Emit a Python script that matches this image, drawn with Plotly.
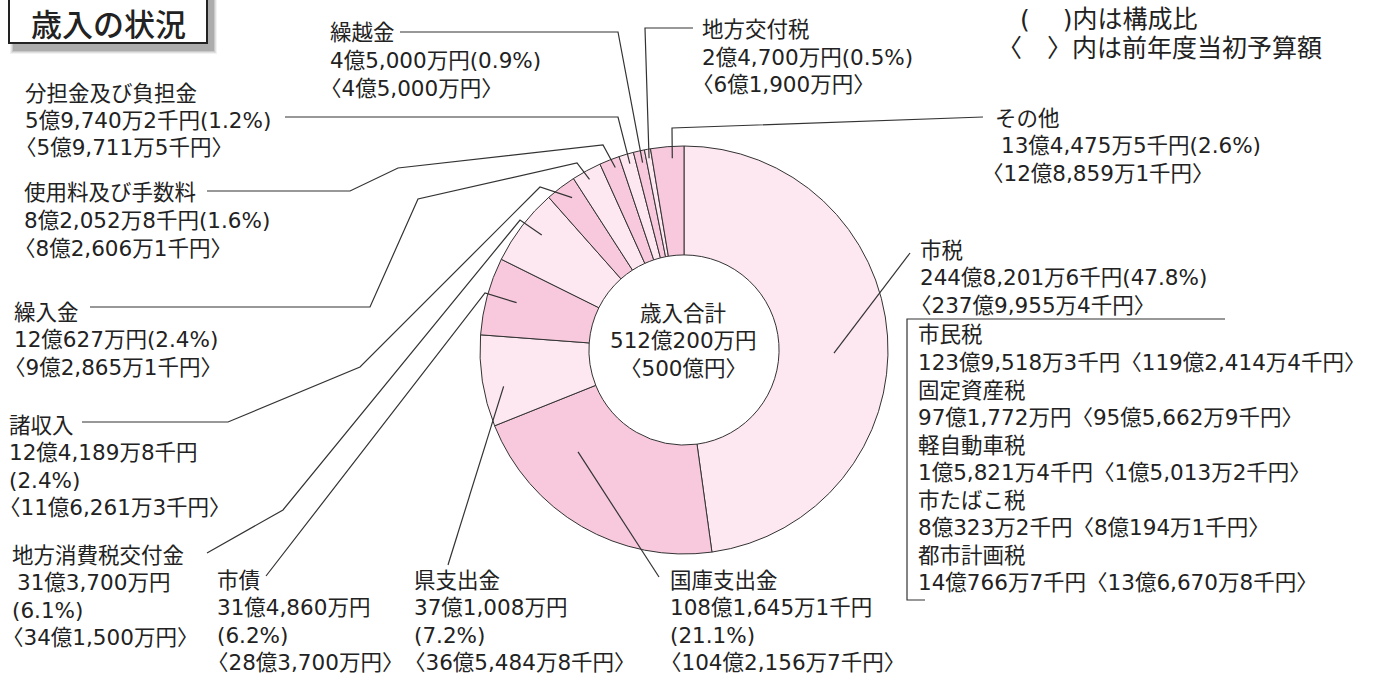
import math
import plotly.graph_objects as go

# ---------------- data ----------------
categories = ["市税", "国庫支出金", "県支出金", "市債", "地方消費税交付金", "諸収入",
              "繰入金", "使用料及び手数料", "分担金及び負担金", "繰越金", "地方交付税", "その他"]
amounts_man = [2448201.6, 1081645.1, 371008, 314860, 313700, 124189.8,
               120627, 82052.8, 59740.2, 45000, 24700, 134475.5]          # 万円
shares = [47.8, 21.1, 7.2, 6.2, 6.1, 2.4, 2.4, 1.6, 1.2, 0.9, 0.5, 2.6]    # %
amount_text = ["244億8,201万6千円", "108億1,645万1千円", "37億1,008万円", "31億4,860万円",
               "31億3,700万円", "12億4,189万8千円", "12億627万円", "8億2,052万8千円",
               "5億9,740万2千円", "4億5,000万円", "2億4,700万円", "13億4,475万5千円"]
prev_text = ["237億9,955万4千円", "104億2,156万7千円", "36億5,484万8千円", "28億3,700万円",
             "34億1,500万円", "11億6,261万3千円", "9億2,865万1千円", "8億2,606万1千円",
             "5億9,711万5千円", "4億5,000万円", "6億1,900万円", "12億8,859万1千円"]

sub_names = ["市民税", "固定資産税", "軽自動車税", "市たばこ税", "都市計画税"]
sub_amount = ["123億9,518万3千円", "97億1,772万円", "1億5,821万4千円", "8億323万2千円", "14億766万7千円"]
sub_prev = ["119億2,414万4千円", "95億5,662万9千円", "1億5,013万2千円", "8億194万1千円", "13億6,670万8千円"]

total_text = ["歳入合計", "512億200万円", "〈500億円〉"]
title_text = "歳入の状況"
notes = ["(　 )内は構成比", "〈　〉内は前年度当初予算額"]

# ---------------- layout constants ----------------
W, H = 1373, 678
CX, CY, R = 684, 350, 204
HOLE = 0.466
FONT = "DejaVu Sans, Noto Sans CJK JP"
FS = 21.5
LINE_COL = "#333333"
colors = ["#fde7f0" if i % 2 == 0 else "#f8c9dd" for i in range(len(categories))]
BRACKET_DX = -10   # full-width 〈 sits in the right half of its cell


def px(x):
    return x / W


def py(y):
    return 1 - y / H


total = sum(amounts_man)
starts, ends = [], []
acc = 0.0
for v in amounts_man:
    starts.append(acc / total * 360)
    acc += v
    ends.append(acc / total * 360)


def anchor(i, frac, r):
    th = math.radians(starts[i] + frac * (ends[i] - starts[i]))
    return (CX + r * math.sin(th), CY - r * math.cos(th))


fig = go.Figure()
fig.add_trace(go.Pie(
    values=amounts_man, labels=categories, sort=False, direction="clockwise",
    rotation=0, hole=HOLE, textinfo="none", hoverinfo="label+percent",
    marker=dict(colors=colors, line=dict(color=LINE_COL, width=1)),
    domain=dict(x=[(CX - R) / W, (CX + R) / W], y=[(H - CY - R) / H, (H - CY + R) / H]),
    showlegend=False,
))

annotations = []
shapes = []


def text_line(x, y, s, size=FS, weight=None, family=FONT):
    f = dict(family=family, size=size, color="#222222")
    if weight:
        f["weight"] = weight
    annotations.append(dict(x=px(x), y=py(y), xref="paper", yref="paper", text=s,
                            showarrow=False, xanchor="left", yanchor="middle", font=f))


def block(x, y0, lines, dy=27.5):
    for k, item in enumerate(lines):
        if isinstance(item, tuple):
            dx, s = item
        else:
            dx, s = 0, item
        if s.startswith("〈"):
            dx += BRACKET_DX
        text_line(x + dx, y0 + k * dy, s)


def path(points, width=1.2):
    d = "M " + " L ".join(f"{px(a):.5f},{py(b):.5f}" for a, b in points)
    shapes.append(dict(type="path", path=d, xref="paper", yref="paper",
                       line=dict(color=LINE_COL, width=width), layer="above"))


def share_s(i):
    return f"({shares[i]}%)"


# label specs: (index, x, y0, lines, elbows (label side first), frac, r)
specs = [
    (0, 918, 250, [categories[0], amount_text[0] + share_s(0), f"〈{prev_text[0]}〉"],
     [(910, 253)], 0.53, 150),
    (1, 668, 580, [categories[1], amount_text[1], share_s(1), f"〈{prev_text[1]}〉"],
     [(659, 577)], 0.71, 147),
    (2, 412, 580, [categories[2], amount_text[2], share_s(2), f"〈{prev_text[2]}〉"],
     [(448, 565)], 0.40, 184),
    (3, 215, 580, [categories[3], amount_text[3], share_s(3), f"〈{prev_text[3]}〉"],
     [(266, 576), (485, 293)], 0.52, 174),
    (4, 10, 555, [categories[4], (5, amount_text[4]), share_s(4), f"〈{prev_text[4]}〉"],
     [(207, 553), (283, 510), (520, 220)], 0.57, 183),
    (5, 7, 425, [categories[5], amount_text[5], share_s(5), f"〈{prev_text[5]}〉"],
     [(82, 422), (228, 422), (360, 367), (540, 187)], 0.60, 189),
    (6, 12, 312, [categories[6], amount_text[6] + share_s(6), f"〈{prev_text[6]}〉"],
     [(90, 307), (370, 307), (418, 199), (577, 163)], 0.45, 195),
    (7, 22, 193, [categories[7], amount_text[7] + share_s(7), f"〈{prev_text[7]}〉"],
     [(207, 191), (350, 191), (398, 168), (603, 145)], 0.64, 195),
    (8, 23, 93, [categories[8], amount_text[8] + share_s(8), f"〈{prev_text[8]}〉"],
     [(285, 117), (618, 117)], 0.56, 194),
    (9, 328, 33, [categories[9], amount_text[9] + share_s(9), f"〈{prev_text[9]}〉"],
     [(400, 32), (618, 32)], 0.6, 192),
    (10, 700, 30, [categories[10], amount_text[10] + share_s(10), f"〈{prev_text[10]}〉"],
     [(693, 28), (645, 28)], 0.5, 195),
    (11, 993, 118, [categories[11], (6, amount_text[11] + share_s(11)), (-3, f"〈{prev_text[11]}〉")],
     [(983, 117), (672, 128)], 0.63, 192),
]

for i, x, y0, lines, elbows, frac, r in specs:
    block(x, y0, lines, 27.5)
    path(elbows + [anchor(i, frac, r)])

# 市税 breakdown
sub_lines = []
for n, a, p in zip(sub_names, sub_amount, sub_prev):
    sub_lines.append(n)
    sub_lines.append(f"{a}〈{p}〉")
block(916, 335, sub_lines, 27.5)
path([(1225, 319), (907, 319), (907, 600), (925, 600)])

# centre text
for k, s in enumerate(total_text):
    annotations.append(dict(x=px(CX - 1), y=py(313 + k * 27.5), xref="paper", yref="paper",
                            text=s, showarrow=False, xanchor="center", yanchor="middle",
                            font=dict(family=FONT, size=FS, color="#222222")))

# notes top right
text_line(1018, 19, notes[0], size=25)
text_line(995, 49, notes[1], size=25)

# title box with shadow
BOX_BOTTOM = 43
for k, op in enumerate([0.05, 0.07, 0.10, 0.14]):
    g = 4 - k
    shapes.append(dict(type="rect", xref="paper", yref="paper",
                       x0=px(14 - g), x1=px(213 + g), y0=py(-10), y1=py(BOX_BOTTOM + 7 + g),
                       fillcolor=f"rgba(0,0,0,{op})", line=dict(width=0), layer="above"))
shapes.append(dict(type="rect", xref="paper", yref="paper",
                   x0=px(9), x1=px(207), y0=py(-10), y1=py(BOX_BOTTOM),
                   fillcolor="white", line=dict(color="#222222", width=2), layer="above"))
annotations.append(dict(x=px(108), y=py(23), xref="paper", yref="paper", text=title_text,
                        showarrow=False, xanchor="center", yanchor="middle",
                        font=dict(family="Noto Sans CJK JP", size=31, color="#222222", weight=500)))

fig.update_layout(
    width=W, height=H, margin=dict(l=0, r=0, t=0, b=0),
    paper_bgcolor="white", plot_bgcolor="white",
    annotations=annotations, shapes=shapes,
)
fig.write_html("out.html", config={"displayModeBar": False},
               post_script="document.body.style.margin='0';")
